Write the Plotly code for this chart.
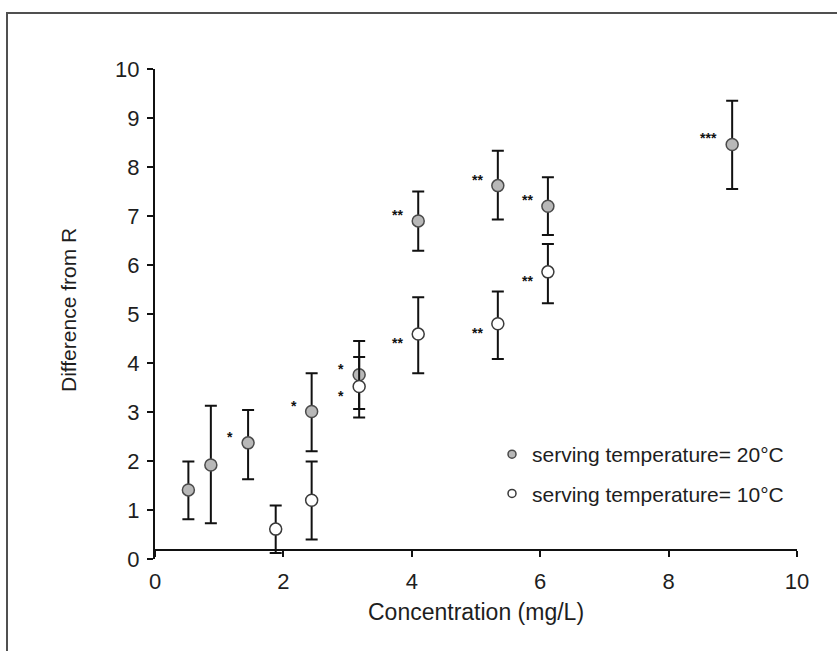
import plotly.graph_objects as go

# ---- data ----
conc_20 = [0.52, 0.87, 1.45, 2.44, 3.18, 4.10, 5.34, 6.12, 8.99]
diff_20 = [1.41, 1.92, 2.37, 3.01, 3.76, 6.90, 7.62, 7.20, 8.46]
err_hi_20 = [0.58, 1.21, 0.67, 0.78, 0.69, 0.60, 0.71, 0.59, 0.89]
err_lo_20 = [0.60, 1.19, 0.74, 0.81, 0.70, 0.61, 0.69, 0.59, 0.91]
sig_20 = ["", "", "*", "*", "*", "**", "**", "**", "***"]

conc_10 = [1.88, 2.44, 3.18, 4.10, 5.34, 6.12]
diff_10 = [0.61, 1.20, 3.52, 4.59, 4.80, 5.86]
err_hi_10 = [0.48, 0.79, 0.60, 0.75, 0.66, 0.57]
err_lo_10 = [0.49, 0.80, 0.63, 0.80, 0.72, 0.64]
sig_10 = ["", "", "*", "**", "**", "**"]

name_20 = "serving temperature= 20°C"
name_10 = "serving temperature= 10°C"
x_ticks = [0, 2, 4, 6, 8, 10]
y_ticks = list(range(0, 11))

FONT = "Liberation Sans, Arial, sans-serif"
TXT = "#1e1e1e"

W, H = 837, 651
L, R, T, B = 155, 40, 69, 92
plot_w = W - L - R
plot_h = H - T - B

def err(hi, lo):
    return dict(type="data", symmetric=False, array=hi, arrayminus=lo,
                color="#111111", thickness=2, width=6)

fig = go.Figure()
fig.add_trace(go.Scatter(
    x=conc_20, y=diff_20, mode="markers", showlegend=False,
    error_y=err(err_hi_20, err_lo_20),
    marker=dict(symbol="circle", size=12, color="#b8b8b8",
                line=dict(color="#4a4a4a", width=1.5)),
))
fig.add_trace(go.Scatter(
    x=conc_10, y=diff_10, mode="markers", showlegend=False,
    error_y=err(err_hi_10, err_lo_10),
    marker=dict(symbol="circle", size=12, color="#ffffff",
                line=dict(color="#3a3a3a", width=1.5)),
))
# legend entries
fig.add_trace(go.Scatter(
    x=[None], y=[None], mode="markers", name=name_20, legendgroup="a",
    marker=dict(symbol="circle", size=8, color="#b8b8b8",
                line=dict(color="#4a4a4a", width=1.5)),
))
fig.add_trace(go.Scatter(
    x=[None], y=[None], mode="markers", name=name_10, legendgroup="b",
    marker=dict(symbol="circle", size=8, color="#ffffff",
                line=dict(color="#3a3a3a", width=1.5)),
))

annotations = []
labelled_20 = {xv for xv, s in zip(conc_20, sig_20) if s}
for series, (xs, ys, sigs) in enumerate(((conc_20, diff_20, sig_20),
                                         (conc_10, diff_10, sig_10))):
    for xv, yv, s in zip(xs, ys, sigs):
        if not s:
            continue
        # when both series are labelled at the same concentration,
        # put the 10 °C label below its marker so the two do not collide
        ysh = 6
        if series == 1 and xv in labelled_20:
            ysh = -9
        annotations.append(dict(
            x=xv, y=yv, xref="x", yref="y", text="<b>" + s + "</b>", showarrow=False,
            xanchor="right", yanchor="middle", xshift=-13, yshift=ysh,
            font=dict(family=FONT, size=14, color="#111111")))

annotations.append(dict(
    x=0.5, y=(559 - 612) / plot_h, xref="paper", yref="paper",
    text="Concentration (mg/L)", showarrow=False, xanchor="center", yanchor="middle",
    font=dict(family=FONT, size=23, color=TXT)))
annotations.append(dict(
    x=(68 - L) / plot_w, y=(559 - 310) / plot_h, xref="paper", yref="paper",
    text="Difference from R", showarrow=False, textangle=-90,
    xanchor="center", yanchor="middle",
    font=dict(family=FONT, size=21, color=TXT)))

frame = dict(type="rect", xref="paper", yref="paper",
             x0=(7 - L) / plot_w, x1=(W + 20 - L) / plot_w,
             y0=(559 - (H + 20)) / plot_h, y1=(559 - 13) / plot_h,
             line=dict(color="#505050", width=2), fillcolor="rgba(0,0,0,0)")

fig.update_layout(
    width=W, height=H,
    margin=dict(l=L, r=R, t=T, b=B, pad=0),
    paper_bgcolor="white", plot_bgcolor="white",
    font=dict(family=FONT, size=21, color=TXT),
    showlegend=True,
    legend=dict(x=(492 - L) / plot_w, y=(559 - 434) / plot_h,
                xanchor="left", yanchor="top",
                bgcolor="rgba(0,0,0,0)", borderwidth=0,
                font=dict(family=FONT, size=21, color=TXT),
                traceorder="grouped", tracegroupgap=9,
                itemwidth=30),
    xaxis=dict(range=[0, 10], tickvals=x_ticks, ticktext=[str(v) for v in x_ticks],
               showgrid=False, zeroline=False, showline=True,
               linecolor="#111111", linewidth=2,
               ticks="outside", ticklen=6, tickwidth=2, tickcolor="#111111",
               anchor="free", position=(559 - 550) / plot_h,
               ticklabelstandoff=6,
               tickfont=dict(family=FONT, size=22, color=TXT)),
    yaxis=dict(range=[0, 10], tickvals=y_ticks, ticktext=[str(v) for v in y_ticks],
               showgrid=False, zeroline=False, showline=True,
               linecolor="#111111", linewidth=2,
               ticks="outside", ticklen=6, tickwidth=2, tickcolor="#111111",
               ticklabelstandoff=3,
               tickfont=dict(family=FONT, size=22, color=TXT)),
    annotations=annotations,
    shapes=[frame],
)

fig.write_html("out.html")
